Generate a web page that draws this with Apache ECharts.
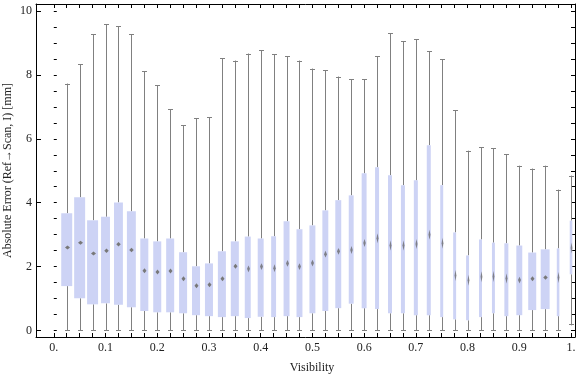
<!DOCTYPE html>
<html>
<head>
<meta charset="utf-8">
<script src="https://cdn.jsdelivr.net/npm/echarts@6/dist/echarts.min.js"></script>
<style>
html,body{margin:0;padding:0;background:#fff;}
#chart{width:576px;height:377px;}
</style>
</head>
<body>
<div id="chart"></div>
<script>
// ---- data ----
const visibility = [0.025,0.05,0.075,0.1,0.125,0.15,0.175,0.2,0.225,0.25,
  0.275,0.3,0.325,0.35,0.375,0.4,0.425,0.45,0.475,0.5,
  0.525,0.55,0.575,0.6,0.625,0.65,0.675,0.7,0.725,0.75,
  0.775,0.8,0.825,0.85,0.875,0.9,0.925,0.95,0.975,1.0];
const minVal = [0,0,0,0,0,0,0,0,0,0, 0,0,0,0,0,0,0,0,0,0, 0,0,0,0,0,0,0,0,0,0, 0,0,0,0,0,0,0,0,0,0.16];
const q1Val = [1.39,1.01,0.82,0.85,0.81,0.73,0.61,0.57,0.57,0.54,
  0.48,0.45,0.42,0.45,0.39,0.43,0.42,0.45,0.42,0.54,
  0.61,0.70,0.84,0.70,0.67,0.54,0.54,0.48,0.48,0.42,
  0.35,0.32,0.42,0.54,0.45,0.48,0.64,0.67,0.45,1.76];
const medianVal = [2.60,2.75,2.41,2.50,2.70,2.52,1.87,1.83,1.86,1.62,
  1.40,1.43,1.62,2.01,1.93,2.00,1.95,2.10,2.00,2.11,
  2.39,2.48,2.52,2.74,2.89,2.66,2.66,2.71,3.00,2.73,
  1.72,1.57,1.68,1.69,1.63,1.58,1.62,1.66,1.66,2.58];
const q3Val = [3.67,4.17,3.45,3.56,4.01,3.73,2.88,2.79,2.88,2.45,
  2.01,2.10,2.48,2.79,2.94,2.88,2.95,3.42,3.17,3.29,
  3.76,4.08,4.23,4.92,5.11,4.86,4.55,4.70,5.80,4.55,
  3.07,2.35,2.85,2.75,2.73,2.66,2.44,2.54,2.57,3.44];
const maxVal = [7.73,8.34,9.27,9.58,9.52,9.27,8.11,7.67,6.92,6.42,
  6.65,6.67,8.52,8.45,8.67,8.77,8.64,8.58,8.45,8.20,
  8.14,7.95,7.86,7.86,8.58,9.30,9.05,9.11,8.74,8.49,
  6.89,5.63,5.73,5.70,5.51,5.16,5.07,5.16,4.41,4.85];
// relative box width (fraction of the bin spacing)
const relWidth = [0.85,0.85,0.85,0.69,0.69,0.69,0.62,0.62,0.62,0.62,
  0.62,0.62,0.62,0.62,0.46,0.46,0.38,0.46,0.46,0.46,
  0.46,0.46,0.38,0.38,0.31,0.31,0.31,0.31,0.31,0.23,
  0.23,0.23,0.23,0.23,0.31,0.46,0.62,0.69,0.2,0.2];
const xLabelValues = [0,0.1,0.2,0.3,0.4,0.5,0.6,0.7,0.8,0.9,1.0];
const xTickValues = [0,0.025,0.05,0.075,0.1,0.125,0.15,0.175,0.2,0.225,0.25,0.275,0.3,0.325,0.35,0.375,0.4,0.425,0.45,0.475,0.5,
  0.525,0.55,0.575,0.6,0.625,0.65,0.675,0.7,0.725,0.75,0.775,0.8,0.825,0.85,0.875,0.9,0.925,0.95,0.975,1.0];
const yLabelValues = [0,2,4,6,8,10];
const yMinorValues = [0,0.5,1,1.5,2,2.5,3,3.5,4,4.5,5,5.5,6,6.5,7,7.5,8,8.5,9,9.5,10];
const BIN = 0.025;

// ---- chart ----
const FONT = '"Liberation Serif","Times New Roman",serif';
const boxColor = '#CDD3F5';
const whiskerColor = '#808080';

const data = visibility.map((v,i)=>[v,minVal[i],q1Val[i],medianVal[i],q3Val[i],maxVal[i],relWidth[i]]);

function renderItem(params, api){
  const x = api.value(0);
  const slot = api.size([BIN,0])[0];
  const w = api.value(6)*slot;
  const pLo = api.coord([x, api.value(1)]);
  const pQ1 = api.coord([x, api.value(2)]);
  const pMd = api.coord([x, api.value(3)]);
  const pQ3 = api.coord([x, api.value(4)]);
  const pHi = api.coord([x, api.value(5)]);
  const cx = Math.round(pLo[0]) + 0.5;
  const ls = {stroke: whiskerColor, lineWidth: 1};
  const children = [
    {type:'line', shape:{x1:cx,y1:pHi[1],x2:cx,y2:pQ3[1]}, style:ls},
    {type:'line', shape:{x1:cx,y1:pQ1[1],x2:cx,y2:pLo[1]}, style:ls},
    {type:'line', shape:{x1:cx-2.5,y1:Math.round(pHi[1])+0.5,x2:cx+2.5,y2:Math.round(pHi[1])+0.5}, style:ls},
    {type:'line', shape:{x1:cx-2.5,y1:Math.round(pLo[1])-0.5,x2:cx+2.5,y2:Math.round(pLo[1])-0.5}, style:ls},
    {type:'rect', shape:{x:pLo[0]-w/2, y:pQ3[1], width:w, height:pQ1[1]-pQ3[1]}, style:{fill:boxColor}}
  ];
  const mw = Math.max(1.8, Math.min(5, w*0.5));
  const mh = Math.min(11, 20/mw);
  const my = pMd[1];
  children.push({type:'polygon', shape:{points:[[cx-mw/2,my],[cx,my-mh/2],[cx+mw/2,my],[cx,my+mh/2]]},
    style:{fill: w >= 7 ? '#787878' : 'rgba(100,100,100,0.75)'}});
  return {type:'group', children};
}

const chart = echarts.init(document.getElementById('chart'), null, {renderer:'canvas'});
const XMIN = -0.0344, XMAX = 1.0077, YMIN = -0.203, YMAX = 10.22;
const axisLineStyle = {color:'#000', width:1};
chart.setOption({
  animation:false,
  backgroundColor:'#fff',
  grid:{left:36, right:1, top:4, bottom:40, containLabel:false, outerBoundsMode:'none'},
  xAxis:[
    {type:'value', min:XMIN, max:XMAX, position:'bottom',
     axisLine:{show:true, onZero:false, lineStyle:axisLineStyle},
     axisTick:{show:true, inside:true, length:4, customValues:xTickValues, lineStyle:axisLineStyle},
     axisLabel:{show:true, customValues:xLabelValues, margin:5, color:'#222', fontFamily:FONT, fontSize:12,
       formatter:(v)=> (Math.abs(v)<1e-9 ? '0.' : (Math.abs(v-1)<1e-9 ? '1.' : v.toFixed(1)))},
     splitLine:{show:false},
     name:'Visibility', nameLocation:'middle', nameGap:25, nameMoveOverlap:false,
     nameTextStyle:{color:'#222', fontFamily:FONT, fontSize:12, padding:[0,0,0,13]}},
    {type:'value', min:XMIN, max:XMAX, position:'top',
     axisLine:{show:true, onZero:false, lineStyle:axisLineStyle},
     axisTick:{show:true, inside:true, length:4, customValues:xTickValues, lineStyle:axisLineStyle},
     axisLabel:{show:false}, splitLine:{show:false}}
  ],
  yAxis:[
    {type:'value', min:YMIN, max:YMAX, position:'left',
     axisLine:{show:true, onZero:false, lineStyle:axisLineStyle},
     axisTick:{show:true, inside:true, length:5, customValues:yLabelValues, lineStyle:axisLineStyle},
     axisLabel:{show:true, customValues:yLabelValues, margin:4, color:'#222', fontFamily:FONT, fontSize:12},
     splitLine:{show:false},
     name:'Absolute Error (Ref\u2192Scan, I) [mm]', nameLocation:'middle', nameGap:22, nameRotate:90, nameMoveOverlap:false,
     nameTextStyle:{color:'#222', fontFamily:FONT, fontSize:12}},
    {type:'value', min:YMIN, max:YMAX, position:'left',
     axisLine:{show:false},
     axisTick:{show:true, inside:true, length:3, customValues:yMinorValues, lineStyle:axisLineStyle},
     axisLabel:{show:false}, splitLine:{show:false}},
    {type:'value', min:YMIN, max:YMAX, position:'right',
     axisLine:{show:true, onZero:false, lineStyle:axisLineStyle},
     axisTick:{show:true, inside:true, length:4, customValues:yMinorValues, lineStyle:axisLineStyle},
     axisLabel:{show:false}, splitLine:{show:false}}
  ],
  series:[{
    type:'custom', xAxisIndex:0, yAxisIndex:0, clip:true,
    renderItem, data, encode:{x:0, y:[1,2,3,4,5]}
  }]
});
</script>
</body>
</html>
